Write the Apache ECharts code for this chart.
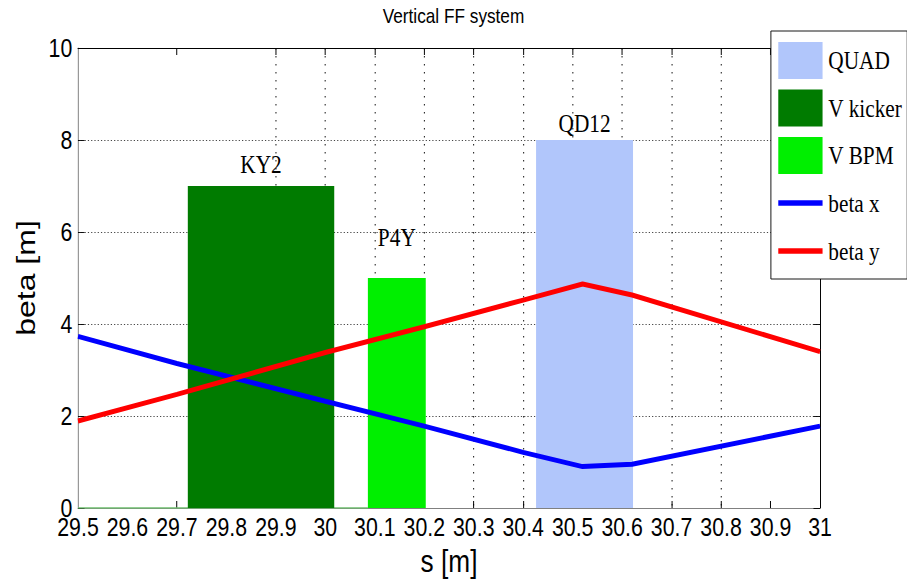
<!DOCTYPE html>
<html>
<head>
<meta charset="utf-8">
<script src="https://cdn.jsdelivr.net/npm/echarts@6/dist/echarts.min.js"></script>
<style>
  html, body { margin: 0; padding: 0; overflow: hidden; background: #fff; }
  /* the figure is laid out wide and squeezed horizontally, giving the narrow lettering */
  #chart { width: 1106px; height: 583px; transform: scaleX(0.8201); transform-origin: 0 0; }
</style>
</head>
<body>
<div id="chart"></div>
<script>
// Beta functions along the vertical final-focus section
const sPositions = [29.5, 29.7, 30.0, 30.2, 30.4, 30.52, 30.62, 31.0];
const betaX = [3.73, 3.14, 2.32, 1.78, 1.21, 0.90, 0.95, 1.78];
const betaY = [1.89, 2.47, 3.38, 3.94, 4.52, 4.87, 4.63, 3.40];

// Beamline elements: label, kind, start / end position and drawn height
const elementNames = ['KY2', 'P4Y', 'QD12'];
const elementTypes = ['V kicker', 'V BPM', 'QUAD'];
const elementStart = [29.722, 30.086, 30.426];
const elementEnd = [30.018, 30.203, 30.622];
const elementHeight = [7, 5, 8];

// zero level traced by the kicker / BPM fill
const baselineS = [29.5, 30.086];
const baselineV = [0, 0];

// axis ticks
const xTickLabels = [29.5, 29.6, 29.7, 29.8, 29.9, 30.0, 30.1, 30.2, 30.3, 30.4, 30.5, 30.6, 30.7, 30.8, 30.9, 31.0];
const xTickMarks = [29.7, 29.9, 30.0, 30.1, 30.2, 30.3, 30.4, 30.5, 30.6, 30.7, 30.8, 30.9];
const yTicks = [0, 2, 4, 6, 8, 10];

const legendOrder = ['QUAD', 'V kicker', 'V BPM'];
const lineNames = ['beta x', 'beta y'];

// styling
const SANS = '"Liberation Sans", Arial, Helvetica, sans-serif';
const SERIF = '"Liberation Serif", "Times New Roman", serif';
const typeColor = { 'QUAD': '#b1c6fb', 'V kicker': '#007b00', 'V BPM': '#00ef00' };
const labelGap = { 'KY2': 9, 'P4Y': 28, 'QD12': 4 };

const chart = echarts.init(document.getElementById('chart'), null, { renderer: 'svg' });

function elementSeries(kind) {
  const idx = elementTypes.indexOf(kind);
  const label = elementNames[idx];
  return {
    type: 'custom',
    name: kind,
    z: 2,
    itemStyle: { color: typeColor[kind] },
    data: [[elementStart[idx], elementEnd[idx], elementHeight[idx]]],
    encode: { x: [0, 1], y: 2 },
    renderItem: function (params, api) {
      const p0 = api.coord([api.value(0), 0]);
      const p1 = api.coord([api.value(1), api.value(2)]);
      return {
        type: 'group',
        children: [
          {
            type: 'rect',
            shape: { x: p0[0], y: p1[1], width: p1[0] - p0[0], height: p0[1] - p1[1] },
            style: { fill: api.visual('color') }
          },
          {
            type: 'text',
            x: (p0[0] + p1[0]) / 2,
            y: p1[1] - labelGap[label],
            style: {
              text: label, fill: '#000', fontSize: 26, fontFamily: SERIF,
              align: 'center', verticalAlign: 'bottom'
            }
          }
        ]
      };
    }
  };
}

function betaSeries(name, values, color) {
  return {
    type: 'line',
    name: name,
    z: 4,
    symbol: 'none',
    showSymbol: false,
    data: sPositions.map((s, i) => [s, values[i]]),
    lineStyle: { color: color, width: 5 },
    itemStyle: { color: color }
  };
}

const gridLineV = { color: '#222', width: 1.3, type: [1.5, 6.5] };
const gridLineH = { color: '#333', width: 1, type: [1.5, 2.5] };

const option = {
  animation: false,
  backgroundColor: '#fff',
  title: {
    text: 'Vertical FF system',
    left: 'center',
    top: 0,
    padding: [5, 0, 0, 8],
    textStyle: { fontFamily: SANS, fontSize: 21, fontWeight: 'normal', color: '#000' }
  },
  grid: { left: 95.1, right: 106.1, top: 48, bottom: 75, outerBoundsMode: 'none' },
  legend: [
    {
      data: legendOrder,
      orient: 'vertical',
      left: 940, top: 31,
      padding: [11, 6, 105, 9],
      itemWidth: 54, itemHeight: 37, itemGap: 10.5,
      icon: 'rect',
      selectedMode: false,
      borderColor: '#000', borderWidth: 1, backgroundColor: '#fff',
      textStyle: { fontFamily: SERIF, fontSize: 26, color: '#000', padding: [0, 0, 0, 2] },
      z: 6
    },
    {
      data: lineNames,
      orient: 'vertical',
      left: 949, top: 190,
      padding: 0,
      itemWidth: 54, itemHeight: 5.5, itemGap: 22,
      icon: 'rect',
      selectedMode: false,
      textStyle: { fontFamily: SERIF, fontSize: 26, lineHeight: 26, color: '#000', padding: [0, 0, 0, 2] },
      z: 7
    }
  ],
  xAxis: [
    {
      type: 'value', position: 'bottom', min: 29.5, max: 31,
      axisLine: { show: true, onZero: false, lineStyle: { color: '#808080', width: 1.2 } },
      axisTick: { show: true, inside: true, length: 7, customValues: xTickMarks, lineStyle: { color: '#000', width: 1.2 } },
      axisLabel: {
        customValues: xTickLabels, color: '#000', fontFamily: SANS, fontSize: 26,
        lineHeight: 18, margin: 10,
        formatter: v => String(Math.round(v * 10) / 10)
      },
      splitLine: { show: true, showMinLine: false, showMaxLine: false, lineStyle: gridLineV },
      name: 's [m]', nameLocation: 'middle', nameGap: 35,
      nameTextStyle: { fontFamily: SANS, fontSize: 32, color: '#000' }
    },
    {
      type: 'value', position: 'top', min: 29.5, max: 31,
      axisLine: { show: true, onZero: false, lineStyle: { color: '#000', width: 1.2 } },
      axisTick: { show: true, inside: true, length: 7, customValues: xTickMarks, lineStyle: { color: '#000', width: 1.2 } },
      axisLabel: { show: false },
      splitLine: { show: false }
    }
  ],
  yAxis: [
    {
      type: 'value', position: 'left', min: 0, max: 10, interval: 2,
      axisLine: { show: true, onZero: false, lineStyle: { color: '#808080', width: 1.2 } },
      axisTick: { show: true, inside: true, length: 8, lineStyle: { color: '#000' } },
      axisLabel: { color: '#000', fontFamily: SANS, fontSize: 26, lineHeight: 16, margin: 7,
        padding: [0, 0, 4, 0], customValues: yTicks },
      splitLine: { show: true, showMinLine: false, showMaxLine: false, lineStyle: gridLineH },
      name: 'beta [m]', nameLocation: 'middle', nameGap: 43,
      nameTextStyle: { fontFamily: SANS, fontSize: 32, color: '#000' }
    },
    {
      type: 'value', position: 'right', min: 0, max: 10, interval: 2,
      axisLine: { show: true, onZero: false, lineStyle: { color: '#000', width: 1.2 } },
      axisTick: { show: true, inside: true, length: 8, lineStyle: { color: '#000' } },
      axisLabel: { show: false },
      splitLine: { show: false }
    }
  ],
  series: [
    elementSeries('QUAD'),
    elementSeries('V kicker'),
    elementSeries('V BPM'),
    {
      type: 'line',
      name: 'baseline',
      z: 1,
      silent: true,
      symbol: 'none',
      data: baselineS.map((s, i) => [s, baselineV[i]]),
      lineStyle: { color: '#6cbf6c', width: 1.6 }
    },
    betaSeries('beta x', betaX, '#0000ff'),
    betaSeries('beta y', betaY, '#ff0000')
  ]
};

chart.setOption(option);
</script>
</body>
</html>
